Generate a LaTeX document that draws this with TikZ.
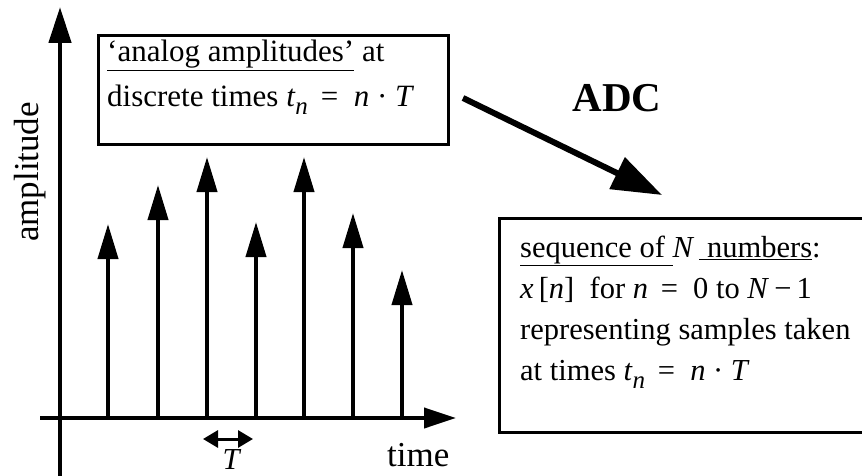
\documentclass[tikz,border=0pt]{standalone}
\usepackage{fontspec}
\setmainfont{Liberation Serif}
\usetikzlibrary{arrows.meta}

\newcommand{\lowidx}[1]{\raisebox{-8pt}{\fontsize{25}{25}\selectfont\textit{#1}}}

\begin{document}
\begin{tikzpicture}[x=1pt, y=-1pt, every node/.style={font=\fontsize{30.5}{41}\selectfont, inner sep=0pt}, >={Triangle[length=35pt, width=20pt]}, frame/.style={draw, line width=3pt, anchor=north west}, stem/.style={->, line width=4pt}]
	\useasboundingbox (0,0) rectangle (862,476);
	\clip (0,0) rectangle (862,476);
	\coordinate (ybot) at (60,476);
	\coordinate (ytop) at (60,7);
	\coordinate (xleft) at (40,418);
	\coordinate (xright) at (456,418);
	\draw[->, line width=4.5pt, >={Triangle[length=36pt, width=22pt]}] (ybot) -- (ytop);
	\draw[->, line width=4pt, >={Triangle[length=32pt, width=20pt]}] (xleft) -- (xright);
	\foreach \x/\h [count=\i] in {108/224, 158/185, 207/157, 256/222, 304/157, 353/213, 402/270} {
		\coordinate (b\i) at (\x,418);
		\coordinate (s\i) at (\x,\h);
		\draw[stem] (b\i) -- (s\i);
	}
	\node[rotate=90, anchor=base, font=\fontsize{35}{35}\selectfont] (amplabel) at (38,172) {amplitude};
	\node[anchor=base west, font=\fontsize{35}{35}\selectfont] (timelabel) at (387,466) {time};
	\coordinate (tl) at (203,439);
	\coordinate (tr) at (253,439);
	\draw[<->, line width=3pt, >={Triangle[length=15pt, width=17pt]}] (tl) -- (tr);
	\node[anchor=base] (tlabel) at (232,469) {\textit{T}};
	\node[frame, minimum width=350pt, minimum height=109pt] (ampbox) at (97,34) {};
	\node[anchor=base west, align=left, font=\fontsize{31}{45}\selectfont] (amptext) at (107,107) {\underline{‘analog amplitudes’} at\\discrete times \textit{t}\lowidx{n} \,= \ \textit{n} · \textit{T}};
	\coordinate (adcfrom) at (463,98);
	\coordinate (adcto) at (662,195);
	\draw[->, line width=6pt, >={Triangle[length=50pt, width=34pt]}] (adcfrom) -- (adcto);
	\node[anchor=base, font=\bfseries\fontsize{41}{41}\selectfont] (adc) at (617,112) {ADC};
	\node[frame, minimum width=380pt, minimum height=214pt] (seqbox) at (498,217) {};
	\node[anchor=base west, align=left] (seqtext) at (520,380) {\underline{sequence of }\textit{N}\,\underline{ numbers}:\\\textit{x}\,[\textit{n}]\ \ for \textit{n} \,= \ 0 to \textit{N}\,−\,1\\representing samples taken\\at times \textit{t}\lowidx{n} \,= \ \textit{n} · \textit{T}};
\end{tikzpicture}
\end{document}
